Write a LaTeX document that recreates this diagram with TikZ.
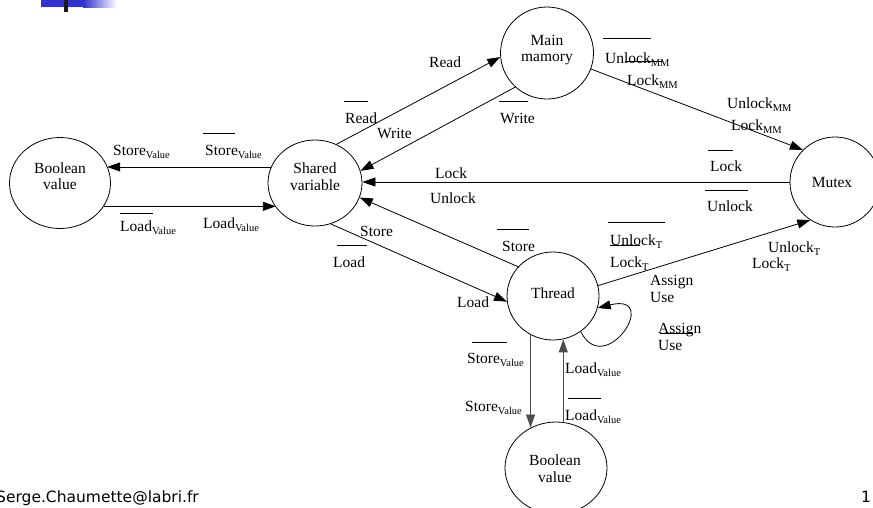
\documentclass[tikz,border=0pt]{standalone}
\usepackage{fontspec}
\setmainfont{Liberation Serif}
\newfontfamily\footfont{DejaVu Sans}
\usetikzlibrary{arrows.meta,shapes.geometric}

% lowered, smaller index text (Store_Value, Lock_MM, ...)
\newcommand{\lowsub}[1]{\raisebox{-3pt}{\fontsize{10.5}{12}\selectfont #1}}

\definecolor{hdrblue}{RGB}{52,50,205}
\definecolor{hdrdark}{RGB}{26,26,30}

\begin{document}
\begin{tikzpicture}[x=1pt,y=-1pt,
  every node/.style={font=\fontsize{15.5}{16.5}\selectfont},
  state/.style={draw, ellipse, line width=0.8pt, inner sep=0pt},
  arr/.style={line width=0.8pt, -{Triangle[length=13pt,width=9pt]}},
  varr/.style={arr, draw=black!70},
  lbl/.style={anchor=base west, inner sep=0pt},
  bar/.style={line width=0.8pt}]

\useasboundingbox (0,0) rectangle (873,507);

% header decoration
\fill[hdrblue] (41,0) rectangle (83,7);
\shade[left color=hdrblue, right color=white] (83,0) rectangle (117,7);
\fill[hdrdark] (64,0) rectangle (68,12);

% states
\node[state, minimum width=101pt, minimum height=91pt] (bvL) at (60,183) {};
\node[state, minimum width=94pt,  minimum height=86pt] (sv)  at (315,183) {};
\node[state, minimum width=93pt,  minimum height=92pt] (mm)  at (547,53) {};
\node[state, minimum width=90pt,  minimum height=90pt] (mx)  at (835,182) {};
\node[state, minimum width=92pt,  minimum height=88pt] (th)  at (553,296) {};
\node[state, minimum width=102pt, minimum height=92pt] (bvB) at (556,468) {};

\node[align=center] (bvLt) at (60,176) {Boolean\\value};
\node[align=center] (svt)  at (315,176.5) {Shared\\variable};
\node[align=center] (mmt)  at (547,50) {Main\\mamory};
\node (mxt) at (832,182) {Mutex};
\node (tht) at (553,293) {Thread};
\node[align=center] (bvBt) at (555,468.5) {Boolean\\value};

% connectors
\draw[arr] (sv.160) -- (sv.160 -| bvL.20);
\draw[arr] (bvL.-28) -- (bvL.-28 -| sv.212);
\draw[arr] (sv.61) -- (mm.185);
\draw[arr] (mm.227) -- (sv.15);
\draw[arr] (mx.west) -- (mx.west -| sv.east);
\draw[arr] (th.140) -- (sv.-18);
\draw[arr] (sv.-69) -- (th.187);
\draw[arr] (mm.-20) -- (mx.135);
\draw[arr] (th.13) -- (mx.237);
\draw[arr] (th.-52) .. controls (605,380) and (662,292) .. (th.-15);
\draw[varr] (th.240) -- (th.240 |- bvB.122);
\draw[varr] (bvB.81) -- (bvB.81 |- th.-77);

% labels: shared variable <-> boolean value
\node[lbl] (a1) at (113,155) {Store\lowsub{Value}};
\node[lbl] (a2) at (205,155) {Store\lowsub{Value}};
\draw[bar] (203,133) -- (235,133);
\node[lbl] (a3) at (120,231) {Load\lowsub{Value}};
\draw[bar] (120,213) -- (153,213);
\node[lbl] (a4) at (203,228) {Load\lowsub{Value}};

% labels: shared variable <-> main memory
\node[lbl] (b1) at (429,67) {Read};
\node[lbl] (b2) at (345,123) {Read};
\draw[bar] (344,101) -- (368,101);
\node[lbl] (b3) at (377,138) {Write};
\node[lbl] (b4) at (500,123) {Write};
\draw[bar] (499,101) -- (528,101);

% labels: main memory -> mutex
\node[lbl] (c1) at (605,63) {Unlock\lowsub{MM}};
\draw[bar] (603,38) -- (651,38);
\node[lbl] (c2) at (627,85) {Lock\lowsub{MM}};
\draw[bar] (625,61) -- (663,61);
\node[lbl] (c3) at (727,108) {Unlock\lowsub{MM}};
\node[lbl] (c4) at (731,130) {Lock\lowsub{MM}};

% labels: mutex -> shared variable
\node[lbl] (d1) at (710,171) {Lock};
\draw[bar] (708,150) -- (733,150);
\node[lbl] (d2) at (707,211) {Unlock};
\draw[bar] (705,190) -- (748,190);
\node[lbl] (d3) at (435,178) {Lock};
\node[lbl] (d4) at (430,203) {Unlock};

% labels: shared variable <-> thread
\node[lbl] (e1) at (360,236) {Store};
\node[lbl] (e2) at (333,267) {Load};
\draw[bar] (337,245) -- (367,245);
\node[lbl] (e3) at (502,251) {Store};
\draw[bar] (497,229) -- (529,229);
\node[lbl] (e4) at (457,307) {Load};

% labels: thread -> mutex
\node[lbl] (f1) at (610,245) {Unlock\lowsub{T}};
\draw[bar] (608,222) -- (665,222);
\node[lbl] (f2) at (610,267) {Lock\lowsub{T}};
\draw[bar] (610,245) -- (640,245);
\node[lbl] (f3) at (768,252) {Unlock\lowsub{T}};
\node[lbl] (f4) at (752,268) {Lock\lowsub{T}};

% labels: thread self loop
\node[lbl, align=left] (g1) at (650,302) {Assign\\Use};
\node[lbl, align=left] (g2) at (658,350) {Assign\\Use};
\draw[bar] (660,333) -- (693,333);

% labels: thread <-> boolean value
\node[lbl] (h1) at (467,363) {Store\lowsub{Value}};
\draw[bar] (472,342) -- (507,342);
\node[lbl] (h2) at (465,411) {Store\lowsub{Value}};
\node[lbl] (h3) at (565,373) {Load\lowsub{Value}};
\node[lbl] (h4) at (565,420) {Load\lowsub{Value}};
\draw[bar] (568,398) -- (601,398);

% footer
\node[lbl, font=\footfont\fontsize{15.5}{18}\selectfont] (ft) at (-4,502) {Serge.Chaumette@labri.fr};
\node[lbl, font=\footfont\fontsize{15.5}{18}\selectfont] (pg) at (861,502) {1};
\end{tikzpicture}
\end{document}
